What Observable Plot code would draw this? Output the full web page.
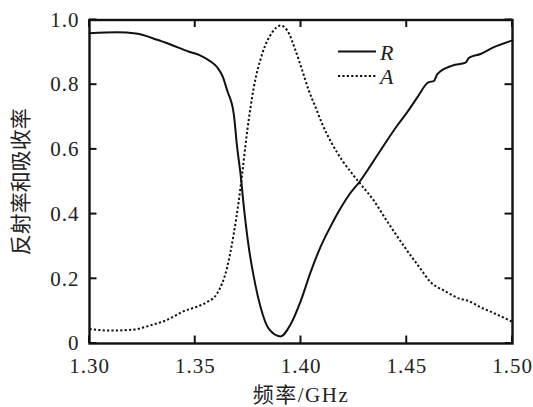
<!DOCTYPE html>
<html>
<head>
<meta charset="utf-8">
<script src="https://cdn.jsdelivr.net/npm/d3@7"></script>
<script src="https://cdn.jsdelivr.net/npm/@observablehq/plot@0.6"></script>
<style>
  body { margin: 0; background: #fff; }
  #chart svg { display: block; }
</style>
</head>
<body>
<div id="chart"></div>
<script>
// Reflectance R (solid) versus frequency in GHz
const freqR = [1.300, 1.313, 1.322, 1.332, 1.338, 1.347, 1.3525, 1.357, 1.3604, 1.363, 1.3651, 1.3682,
  1.3698, 1.3714, 1.373, 1.3753, 1.3777, 1.3809, 1.3848, 1.3903, 1.395, 1.3998, 1.4045, 1.4092,
  1.414, 1.4187, 1.423, 1.4277, 1.4329, 1.436, 1.4455, 1.451, 1.455, 1.4604, 1.4628, 1.4644,
  1.4715, 1.4778, 1.4794, 1.4849, 1.4912, 1.500];
const reflect = [0.959, 0.962, 0.958, 0.939, 0.925, 0.902, 0.890, 0.873, 0.854, 0.825, 0.782, 0.710,
  0.607, 0.525, 0.421, 0.298, 0.205, 0.112, 0.045, 0.022, 0.058, 0.130, 0.220, 0.298,
  0.362, 0.418, 0.462, 0.500, 0.550, 0.581, 0.674, 0.722, 0.761, 0.808, 0.811, 0.832,
  0.859, 0.868, 0.883, 0.895, 0.916, 0.937];

// Absorptance A (dotted) versus frequency in GHz
const freqA = [1.300, 1.3099, 1.321, 1.3288, 1.3367, 1.3446, 1.3509, 1.3556, 1.3604, 1.3651, 1.3682,
  1.3706, 1.3722, 1.3746, 1.3777, 1.3817, 1.3864, 1.3903, 1.3935, 1.3974, 1.4006, 1.4037, 1.4069,
  1.410, 1.4147, 1.4195, 1.4242, 1.428, 1.4344, 1.440, 1.445, 1.4502, 1.4565, 1.4612, 1.4675,
  1.4754, 1.4786, 1.4849, 1.4912, 1.500];
const absorb = [0.045, 0.040, 0.043, 0.056, 0.073, 0.100, 0.114, 0.128, 0.155, 0.236, 0.339,
  0.442, 0.525, 0.658, 0.792, 0.896, 0.962, 0.983, 0.968, 0.906, 0.844, 0.782, 0.730,
  0.679, 0.617, 0.566, 0.525, 0.494, 0.442, 0.385, 0.336, 0.287, 0.231, 0.190, 0.164,
  0.138, 0.133, 0.112, 0.094, 0.067];

const xTicks = [1.30, 1.35, 1.40, 1.45, 1.50];
const xTickLabels = ["1.30", "1.35", "1.40", "1.45", "1.50"];
const yTicks = [0, 0.2, 0.4, 0.6, 0.8, 1.0];
const yTickLabels = ["0", "0.2", "0.4", "0.6", "0.8", "1.0"];
const seriesNames = ["R", "A"];
const xTitle = "频率/GHz";
const yTitle = "反射率和吸收率";

const rRows = freqR.map((f, i) => ({f, v: reflect[i]}));
const aRows = freqA.map((f, i) => ({f, v: absorb[i]}));
const labelFor = (ticks, labels) => d => labels[ticks.findIndex(t => Math.abs(t - d) < 1e-9)];

const W = 533, H = 407;
const mL = 89, mT = 19.5, mR = 21, mB = 64;
const tickLen = 7.5;
const ink = "#111";
const textInk = "#222";
const dotted = "2.2,2.2";
const fontStack = '"Liberation Serif", "Noto Sans CJK SC", serif';

const chart = Plot.plot({
  width: W, height: H,
  marginLeft: mL, marginTop: mT, marginRight: mR, marginBottom: mB,
  style: {background: "#fff", color: textInk, overflow: "visible"},
  x: {domain: [1.30, 1.50]},
  y: {domain: [0, 1]},
  marks: [
    // tick labels and titles
    Plot.axisX(xTicks, {anchor: "bottom", tickSize: 0, tickPadding: 15, fontSize: 21,
      tickFormat: labelFor(xTicks, xTickLabels), label: xTitle, labelAnchor: "center", labelArrow: "none", labelOffset: 58}),
    Plot.axisY(yTicks, {anchor: "left", tickSize: 0, tickPadding: 10, fontSize: 21,
      tickFormat: labelFor(yTicks, yTickLabels), label: yTitle, labelAnchor: "center", labelArrow: "none", labelOffset: 76}),
    // curves
    Plot.line(aRows, {x: "f", y: "v", stroke: ink, strokeWidth: 2, strokeDasharray: dotted, strokeLinecap: "butt", curve: "monotone-x"}),
    Plot.line(rRows, {x: "f", y: "v", stroke: ink, strokeWidth: 2, curve: "monotone-x"}),
    Plot.frame({stroke: ink, strokeWidth: 2.4})
  ]
});

const svg = d3.select(chart);
svg.attr("font-family", fontStack).style("font-family", fontStack);
svg.selectAll("text").attr("font-family", fontStack);
svg.selectAll('g[aria-label="x-axis tick label"] text, g[aria-label="y-axis tick label"] text')
  .attr("letter-spacing", 1);
svg.selectAll('g[aria-label="x-axis label"] text')
  .attr("font-size", 21).attr("letter-spacing", 1.5);
svg.selectAll('g[aria-label="y-axis label"] text')
  .attr("font-size", 21);

// Inward tick marks on all four sides, placed with the plot's own scales
const sx = chart.scale("x"), sy = chart.scale("y");
const [xl, xr] = sx.range, [yb, yt] = sy.range;
const tickGroup = svg.append("g").attr("class", "inner-ticks");
const tickLine = (x1, y1, x2, y2) => tickGroup.append("line")
  .attr("x1", x1).attr("y1", y1).attr("x2", x2).attr("y2", y2)
  .attr("stroke", ink).attr("stroke-width", 2);
for (const t of xTicks) {
  const px = sx.apply(t);
  tickLine(px, yb, px, yb - tickLen);
  tickLine(px, yt, px, yt + tickLen);
}
for (const t of yTicks) {
  const py = sy.apply(t);
  tickLine(xl, py, xl + tickLen, py);
  tickLine(xr, py, xr - tickLen, py);
}

// Legend in the upper right of the plot area
const legend = svg.append("g").attr("class", "legend").attr("text-anchor", "start");
const entries = [
  {name: seriesNames[0], dash: null, y: 51.5, base: 59.5},
  {name: seriesNames[1], dash: dotted, y: 76, base: 84}
];
for (const e of entries) {
  legend.append("line")
    .attr("x1", 338).attr("x2", 376).attr("y1", e.y).attr("y2", e.y)
    .attr("stroke", ink).attr("stroke-width", 2)
    .attr("stroke-dasharray", e.dash);
  legend.append("text")
    .attr("x", 380).attr("y", e.base)
    .attr("font-family", fontStack)
    .attr("font-style", "italic").attr("font-size", 22)
    .attr("fill", textInk)
    .text(e.name);
}

document.getElementById("chart").appendChild(chart);
</script>
</body>
</html>
